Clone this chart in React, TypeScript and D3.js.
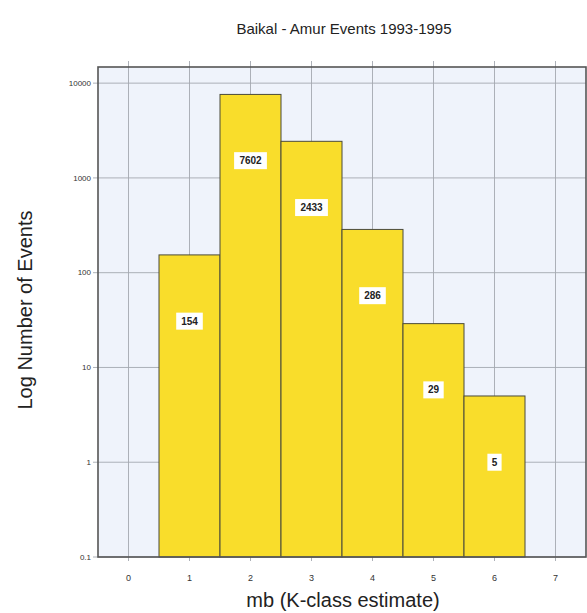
import React, { useEffect, useRef } from 'react';
import * as d3 from 'd3';

// magnitude bins and event counts
const magnitudes = [1, 2, 3, 4, 5, 6];
const counts = [154, 7602, 2433, 286, 29, 5];
const xTicks = [0, 1, 2, 3, 4, 5, 6, 7];
const yTicks = [0.1, 1, 10, 100, 1000, 10000];
const yTickLabels = ['0.1', '1', '10', '100', '1000', '10000'];

const W = 587;
const H = 613;
const margin = { top: 67, right: 1, bottom: 56, left: 98 };

export default function App() {
  const ref = useRef<SVGSVGElement>(null);

  useEffect(() => {
    if (!ref.current) return;
    const svg = d3.select(ref.current);
    svg.selectAll('*').remove();

    const x = d3.scaleLinear().domain([-0.5, 7.5]).range([margin.left, W - margin.right]);
    const y = d3.scaleLog().domain([0.1, 14800]).range([H - margin.bottom, margin.top]);
    const y0 = H - margin.bottom;

    svg.append('rect')
      .attr('x', margin.left).attr('y', margin.top)
      .attr('width', W - margin.right - margin.left)
      .attr('height', y0 - margin.top)
      .attr('fill', '#eff3fb');

    // grid
    const grid = svg.append('g').attr('stroke', '#a4a8b0').attr('stroke-width', 0.9);
    grid.selectAll('.vx').data(xTicks).enter().append('line')
      .attr('x1', d => x(d)).attr('x2', d => x(d))
      .attr('y1', margin.top - 6).attr('y2', y0 + 4);
    grid.selectAll('.hy').data(yTicks).enter().append('line')
      .attr('x1', margin.left - 5).attr('x2', W - margin.right)
      .attr('y1', d => y(d)).attr('y2', d => y(d));

    // bars
    svg.append('g').selectAll('rect').data(magnitudes).enter().append('rect')
      .attr('x', d => x(d - 0.5))
      .attr('width', d => x(d + 0.5) - x(d - 0.5))
      .attr('y', (_, i) => y(counts[i]))
      .attr('height', (_, i) => y0 - y(counts[i]))
      .attr('fill', '#f9dd2b')
      .attr('stroke', '#4a4a3a')
      .attr('stroke-width', 1);

    // value labels
    const lab = svg.append('g').selectAll('g').data(magnitudes).enter().append('g')
      .attr('transform', (d, i) => `translate(${x(d)},${y(counts[i] / 5)})`);
    lab.append('rect')
      .attr('x', (_, i) => -(String(counts[i]).length * 6.2 + 8) / 2)
      .attr('width', (_, i) => String(counts[i]).length * 6.2 + 8)
      .attr('y', -8.5).attr('height', 17)
      .attr('fill', '#ffffff');
    lab.append('text')
      .attr('text-anchor', 'middle').attr('dy', '0.35em')
      .attr('font-family', 'Liberation Sans, Arial, sans-serif')
      .attr('font-size', 10).attr('font-weight', 'bold').attr('fill', '#222')
      .text((_, i) => String(counts[i]));

    // frame
    svg.append('rect')
      .attr('x', margin.left).attr('y', margin.top)
      .attr('width', W - margin.right - margin.left)
      .attr('height', y0 - margin.top)
      .attr('fill', 'none').attr('stroke', '#555').attr('stroke-width', 1.6);

    const font = 'Liberation Sans, Arial, sans-serif';
    // tick labels
    svg.append('g').selectAll('text').data(xTicks).enter().append('text')
      .attr('x', d => x(d)).attr('y', y0 + 24)
      .attr('text-anchor', 'middle')
      .attr('font-family', font).attr('font-size', 9).attr('fill', '#333')
      .text(d => String(d));
    svg.append('g').selectAll('text').data(yTicks).enter().append('text')
      .attr('x', margin.left - 7).attr('y', d => y(d)).attr('dy', '0.35em')
      .attr('text-anchor', 'end')
      .attr('font-family', font).attr('font-size', 8).attr('fill', '#333')
      .text((_, i) => yTickLabels[i]);

    // titles
    svg.append('text')
      .attr('x', 344).attr('y', 34).attr('text-anchor', 'middle')
      .attr('font-family', font).attr('font-size', 15).attr('fill', '#222')
      .text('Baikal - Amur Events 1993-1995');
    svg.append('text')
      .attr('x', 343).attr('y', 607).attr('text-anchor', 'middle')
      .attr('font-family', font).attr('font-size', 20).attr('fill', '#222')
      .text('mb (K-class estimate)');
    svg.append('text')
      .attr('transform', `translate(32,310) rotate(-90)`)
      .attr('text-anchor', 'middle')
      .attr('font-family', font).attr('font-size', 20).attr('fill', '#222')
      .text('Log Number of Events');
  }, []);

  return (
    <svg ref={ref} width={W} height={H}
      style={{ position: 'absolute', left: 0, top: 0, background: '#fff' }} />
  );
}
